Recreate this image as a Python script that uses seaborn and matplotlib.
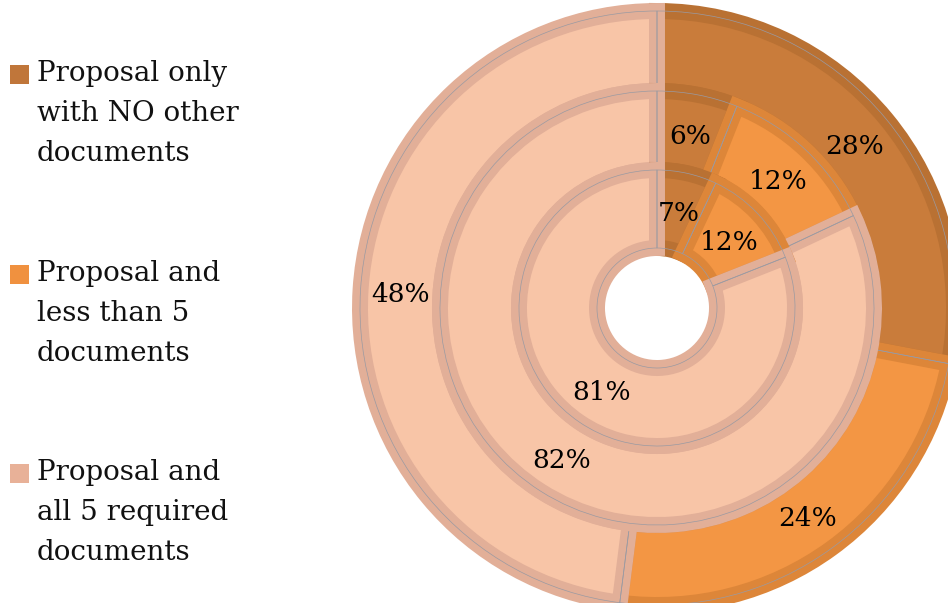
import numpy as np
import matplotlib.pyplot as plt
import seaborn as sns
from matplotlib.patches import Rectangle

# data (outer ring -> inner ring), clockwise from 12 o'clock
categories = ["Proposal only\nwith NO other\ndocuments",
              "Proposal and\nless than 5\ndocuments",
              "Proposal and\nall 5 required\ndocuments"]
outer = [28, 24, 48]
middle = [6, 12, 82]
inner = [7, 12, 81]

fills = ["#C97C3B", "#F39644", "#F8C5A7"]
borders = ["#B97133", "#DD8639", "#E2AF98"]
legend_colors = ["#C0763A", "#F0913F", "#E8B198"]

sns.set_theme(style="white")
plt.rcParams["font.family"] = ["DejaVu Serif"]

W, H = 948, 603
fig = plt.figure(figsize=(W / 100, H / 100), dpi=100)
ax = fig.add_axes([0, 0, 1, 1])

# work in pixel units, origin at the pie centre
cx, cy = 657, 308
radii = [297, 217, 138]
hole = 60
rings = [outer, middle, inner]

for vals, r, r_in in zip(rings, radii, radii[1:] + [hole]):
    w = r - r_in
    # base layer in the border colours (no seams)
    base, _ = ax.pie(vals, radius=r, startangle=90, counterclock=False,
                     colors=borders, wedgeprops=dict(width=w, linewidth=1))
    for i, wd in enumerate(base):
        wd.set_edgecolor(borders[i])
    # fill layer with a thick border kept inside each slice
    wedges, _ = ax.pie(vals, radius=r, startangle=90, counterclock=False,
                       colors=fills, wedgeprops=dict(width=w, linewidth=11.5))
    for i, wd in enumerate(wedges):
        wd.set_edgecolor(borders[i])
        wd.set_clip_path(wd)
    # thin outline
    ax.pie(vals, radius=r, startangle=90, counterclock=False,
           wedgeprops=dict(width=w, linewidth=0.5, edgecolor="#9a9aa2", fill=False))

    cum = 0
    for v in vals:
        ang = np.deg2rad(90 - 360 * (cum + v / 2) / 100)
        rm = r - w / 2
        ax.text(rm * np.cos(ang), rm * np.sin(ang), f"{v}%",
                ha="center", va="center_baseline", fontsize=19, color="black")
        cum += v

ax.set_xlim(-cx, W - cx)
ax.set_ylim(-(H - cy), cy)
ax.axis("off")

# legend drawn at the left side (first-line baselines in px)
baselines = [83, 283, 482]
for lab, col, b in zip(categories, legend_colors, baselines):
    fig.add_artist(Rectangle((10 / W, 1 - (b + 1) / H), 19 / W, 19 / H,
                             transform=fig.transFigure, color=col, lw=0))
    fig.text(37 / W, 1 - (b + 78) / H, lab, ha="left", va="baseline",
             fontsize=20, linespacing=1.61, color="#111111")

fig.savefig("out.png", dpi=100)
